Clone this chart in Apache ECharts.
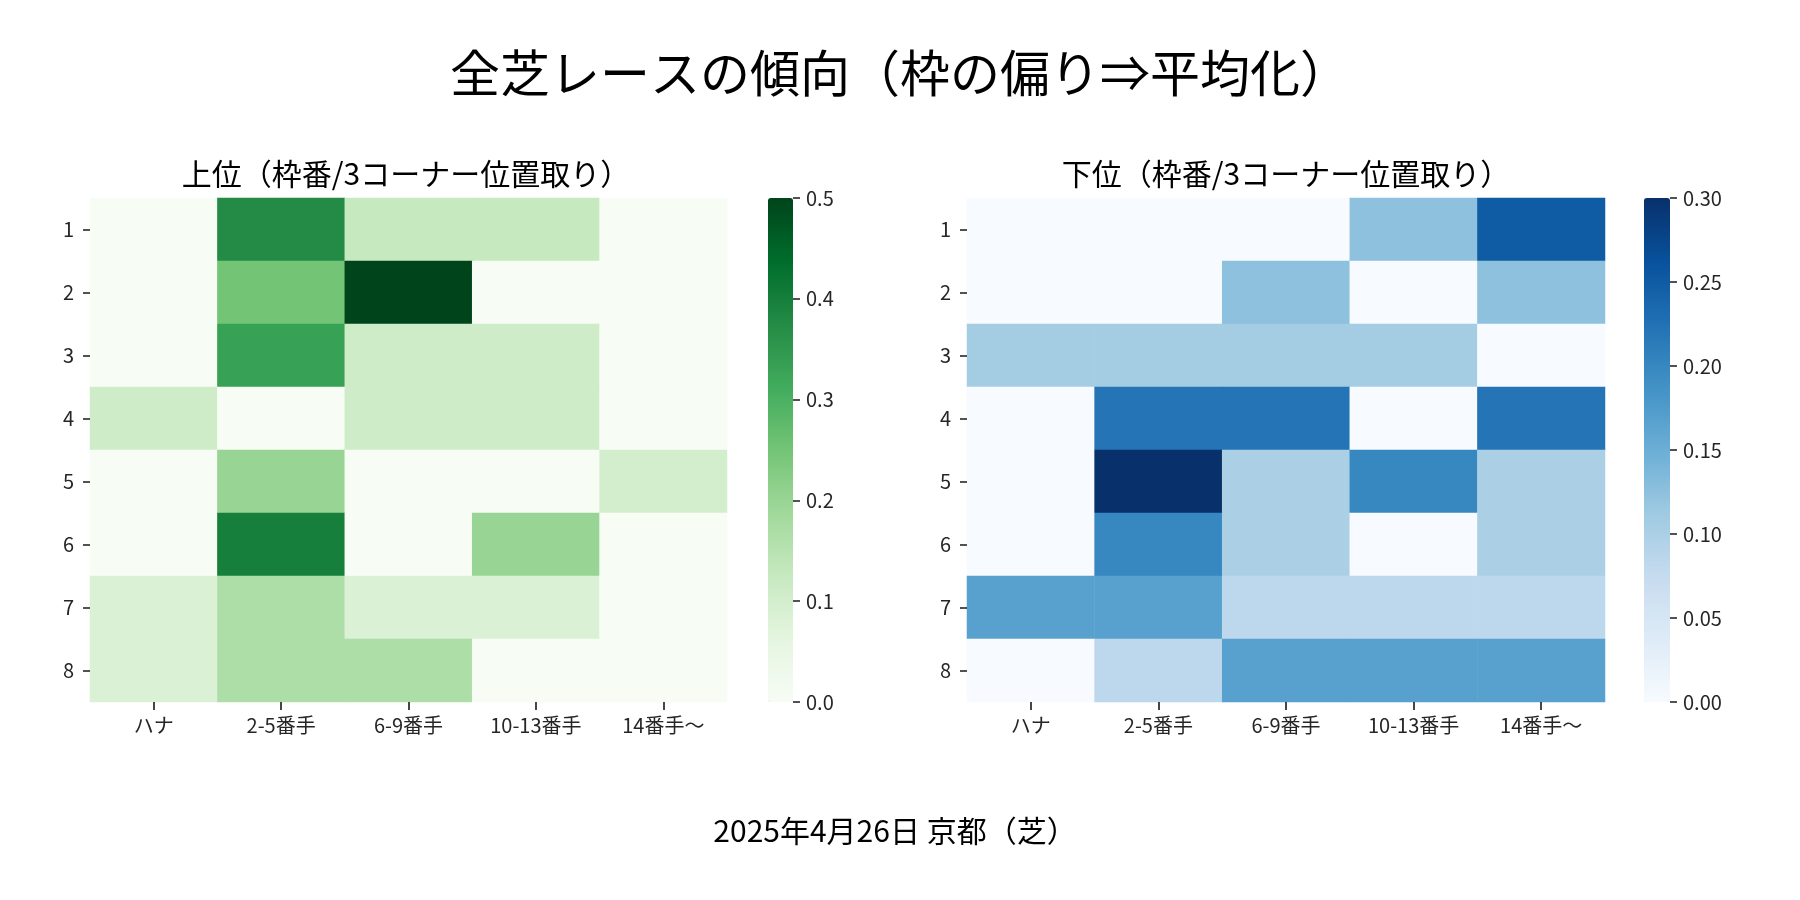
<!DOCTYPE html>
<html>
<head>
<meta charset="utf-8">
<script src="https://cdn.jsdelivr.net/npm/echarts@6/dist/echarts.min.js"></script>
<style>
html,body{margin:0;padding:0;background:#fff;}
#chart{width:1800px;height:900px;}
</style>
</head>
<body>
<div id="chart"></div>
<script>
// ---- data ----
var xCategories = ['ハナ', '2-5番手', '6-9番手', '10-13番手', '14番手〜'];
var yCategories = ['1', '2', '3', '4', '5', '6', '7', '8'];

// 上位 (rows = 枠 1..8, cols = position)
var topValues = [
  [0,     0.375, 0.125, 0.125, 0],
  [0,     0.25,  0.5,   0,     0],
  [0,     0.333, 0.111, 0.111, 0],
  [0.111, 0,     0.111, 0.111, 0],
  [0,     0.2,   0,     0,     0.1],
  [0,     0.4,   0,     0.2,   0],
  [0.083, 0.167, 0.083, 0.083, 0],
  [0.083, 0.167, 0.167, 0,     0]
];
// 下位
var bottomValues = [
  [0,     0,     0,     0.125, 0.25],
  [0,     0,     0.125, 0,     0.125],
  [0.107, 0.107, 0.107, 0.107, 0],
  [0,     0.222, 0.222, 0,     0.222],
  [0,     0.3,   0.1,   0.2,   0.1],
  [0,     0.2,   0.1,   0,     0.1],
  [0.167, 0.167, 0.083, 0.083, 0.083],
  [0,     0.083, 0.167, 0.167, 0.167]
];
var topMax = 0.5, topStep = 0.1;
var bottomMax = 0.3, bottomStep = 0.05;

var mainTitle = '全芝レースの傾向（枠の偏り⇒平均化）';
var leftTitle = '上位（枠番/3コーナー位置取り）';
var rightTitle = '下位（枠番/3コーナー位置取り）';
var footer = '2025年4月26日 京都（芝）';

var greens = ['#f7fcf5','#e5f5e0','#c7e9c0','#a1d99b','#74c476','#41ab5d','#238b45','#006d2c','#00441b'];
var blues  = ['#f7fbff','#deebf7','#c6dbef','#9ecae1','#6baed6','#4292c6','#2171b5','#08519c','#08306b'];

function toTriples(m) {
  var out = [];
  for (var r = 0; r < m.length; r++)
    for (var c = 0; c < m[r].length; c++)
      out.push([c, r, m[r][c]]);
  return out;
}

var FONT = '"Noto Sans CJK JP", "Noto Sans", sans-serif';
var TXT = '#262626';

function heatX(gi) {
  return {
    type: 'category', gridIndex: gi, data: xCategories, z: 10,
    axisLine: {show: false, onZero: false},
    axisTick: {show: true, alignWithLabel: true, length: 8, lineStyle: {color: TXT, width: 1.7}},
    axisLabel: {color: TXT, fontSize: 20, fontFamily: FONT, margin: 13},
    splitLine: {show: false}, splitArea: {show: false}
  };
}
function heatY(gi) {
  return {
    type: 'category', gridIndex: gi, data: yCategories, inverse: true, z: 10,
    axisLine: {show: false, onZero: false},
    axisTick: {show: true, alignWithLabel: true, length: 7, lineStyle: {color: TXT, width: 1.6}},
    axisLabel: {color: TXT, fontSize: 20, fontFamily: FONT, margin: 16},
    splitLine: {show: false}, splitArea: {show: false}
  };
}
function cbX(gi) {
  return {type: 'value', gridIndex: gi, show: false, min: 0, max: 1};
}
function cbY(gi, max, step, dec) {
  return {
    type: 'value', gridIndex: gi, position: 'right', min: 0, max: max, interval: step, z: 10,
    axisLine: {show: false, onZero: false},
    axisTick: {show: true, inside: false, length: 7, lineStyle: {color: TXT, width: 1.6}},
    axisLabel: {color: TXT, fontSize: 20, fontFamily: FONT, margin: 13,
      formatter: function (v) { return v.toFixed(dec); }},
    splitLine: {show: false}
  };
}

var chart = echarts.init(document.getElementById('chart'), null, {renderer: 'canvas'});
chart.setOption({
  backgroundColor: '#ffffff',
  animation: false,
  title: [
    {text: mainTitle, left: 900, top: 48, textAlign: 'center', padding: 0,
     textStyle: {fontSize: 50, fontWeight: 'normal', color: '#000', fontFamily: FONT}},
    {text: leftTitle, left: 406, top: 159, textAlign: 'center', padding: 0,
     textStyle: {fontSize: 30, fontWeight: 'normal', color: '#000', fontFamily: FONT}},
    {text: rightTitle, left: 1286, top: 159, textAlign: 'center', padding: 0,
     textStyle: {fontSize: 30, fontWeight: 'normal', color: '#000', fontFamily: FONT}},
    {text: footer, left: 895, top: 816, textAlign: 'center', padding: 0,
     textStyle: {fontSize: 30, fontWeight: 'normal', color: '#000', fontFamily: FONT}}
  ],
  grid: [
    {left: 90, top: 198, width: 637, height: 504},
    {left: 967, top: 198, width: 638, height: 504},
    {left: 768, top: 198, width: 25, height: 504},
    {left: 1644, top: 198, width: 26, height: 504}
  ],
  xAxis: [heatX(0), heatX(1), cbX(2), cbX(3)],
  yAxis: [heatY(0), heatY(1), cbY(2, topMax, topStep, 1), cbY(3, bottomMax, bottomStep, 2)],
  visualMap: [
    {type: 'continuous', seriesIndex: 0, min: 0, max: topMax, calculable: false, z: 1,
     hoverLink: false, left: 768, top: 198, itemWidth: 25, itemHeight: 504, padding: 0,
     inRange: {color: greens}, text: null, showLabel: false},
    {type: 'continuous', seriesIndex: 1, min: 0, max: bottomMax, calculable: false, z: 1,
     hoverLink: false, left: 1644, top: 198, itemWidth: 26, itemHeight: 504, padding: 0,
     inRange: {color: blues}, text: null, showLabel: false}
  ],
  series: [
    {type: 'heatmap', xAxisIndex: 0, yAxisIndex: 0, data: toTriples(topValues), z: 1,
     itemStyle: {borderWidth: 0}, emphasis: {disabled: true}, progressive: 0},
    {type: 'heatmap', xAxisIndex: 1, yAxisIndex: 1, data: toTriples(bottomValues), z: 1,
     itemStyle: {borderWidth: 0}, emphasis: {disabled: true}, progressive: 0}
  ]
});
</script>
</body>
</html>
